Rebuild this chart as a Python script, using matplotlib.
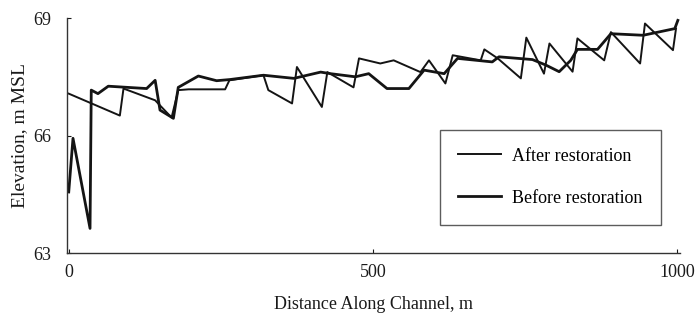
import numpy as np
import matplotlib.pyplot as plt

plt.switch_backend('agg')
plt.rcParams['font.family'] = ['Liberation Serif', 'DejaVu Serif']
plt.rcParams['xtick.direction'] = 'in'
plt.rcParams['ytick.direction'] = 'in'

# before restoration (profile with the deep dip near the start)
before_x = [0, 7, 35, 37, 48, 65, 128, 142, 150, 172, 180, 213, 243, 265, 320, 370,
            414, 430, 471, 493, 523, 559, 584, 617, 639, 696, 707, 762, 784, 806,
            825, 836, 869, 891, 944, 996, 1001]
before_y = [64.56, 65.93, 63.63, 67.16, 67.07, 67.26, 67.20, 67.41, 66.65, 66.44,
            67.23, 67.52, 67.40, 67.43, 67.54, 67.46, 67.62, 67.58, 67.50, 67.58,
            67.20, 67.20, 67.67, 67.58, 67.97, 67.88, 68.01, 67.94, 67.80, 67.63,
            67.92, 68.20, 68.20, 68.60, 68.56, 68.73, 68.94]

# after restoration (pool-riffle sawtooth)
after_x = [0, 84, 90, 142, 169, 180, 197, 257, 264, 320, 328, 367, 375, 416, 425,
           468, 477, 512, 534, 578, 592, 619, 631, 677, 683, 705, 743, 752, 781,
           790, 828, 836, 880, 891, 939, 947, 993, 998]
after_y = [67.07, 66.51, 67.20, 66.90, 66.46, 67.16, 67.18, 67.18, 67.41, 67.54,
           67.16, 66.82, 67.75, 66.73, 67.62, 67.23, 67.97, 67.84, 67.92, 67.62,
           67.92, 67.33, 68.05, 67.92, 68.20, 67.97, 67.46, 68.50, 67.58, 68.35,
           67.63, 68.48, 67.92, 68.64, 67.84, 68.86, 68.18, 68.73]

x_ticks = [0, 500, 1000]
y_ticks = [63, 66, 69]

fig = plt.figure(figsize=(6.97, 3.22), dpi=100)
ax = fig.add_axes([0.096, 0.214, 0.880, 0.730])

ax.plot(after_x, after_y, color="#141414", linewidth=1.4, label="After restoration")
ax.plot(before_x, before_y, color="#141414", linewidth=2.0, label="Before restoration")

ax.set_xlim(-3, 1005)
ax.set_ylim(63, 69)
ax.set_xticks(x_ticks)
ax.set_yticks(y_ticks)
ax.tick_params(labelsize=13, length=3, width=0.8, colors="#1a1a1a")
ax.tick_params(axis='y', pad=11)
ax.tick_params(axis='x', pad=8)
ax.spines['top'].set_visible(False)
ax.spines['right'].set_visible(False)
for s in ('left', 'bottom'):
    ax.spines[s].set_color("#333333")
    ax.spines[s].set_linewidth(1.0)

ax.set_xlabel("Distance Along Channel, m", fontsize=13, color="#1a1a1a", labelpad=11)
ax.set_ylabel("Elevation, m MSL", fontsize=14, color="#1a1a1a", labelpad=4)

legend = ax.legend(loc="upper left", bbox_to_anchor=(0.594, 0.564), frameon=True,
                   fancybox=False, fontsize=13, handlelength=2.35,
                   handletextpad=0.65, labelspacing=1.38, borderpad=1.0)
frame = legend.get_frame()
frame.set_edgecolor("#333333")
frame.set_linewidth(1.0)
frame.set_facecolor("white")

plt.savefig("out.png", dpi=100)
